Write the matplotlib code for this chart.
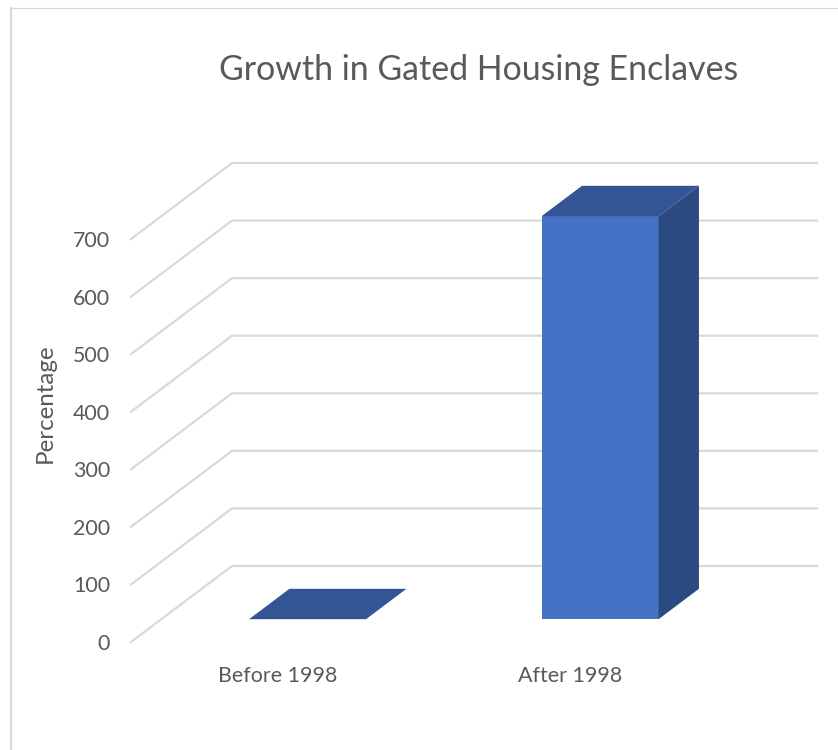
import matplotlib
matplotlib.use('Agg')
import matplotlib.pyplot as plt
from matplotlib.lines import Line2D
from matplotlib.patches import Polygon

categories = ['Before 1998', 'After 1998']
values = [0, 700]
y_ticks = [0, 100, 200, 300, 400, 500, 600, 700]

plt.rcParams['font.family'] = ['Lato', 'DejaVu Sans']

W, H = 838, 750
fig = plt.figure(figsize=(W / 100, H / 100), dpi=100)

# plot box in pixels: floor front edge to top of the back wall
left, right, bottom, top = 131, 817, 642, 163
ax = fig.add_axes([left / W, 1 - bottom / H, (right - left) / W, (bottom - top) / H])

# one category is 292.5 px wide, 100 units are 57.57 px tall
depth_x = 101 / 292.5
depth_y = 76 / 57.57 * 100
ax.set_xlim(-0.5, 1.5 + depth_x)
ax.set_ylim(0, (bottom - top) / 57.57 * 100)


def shift(x, y, d):
    # move a point on the front plane back by depth d (0..1)
    return (x + d * depth_x, y + d * depth_y)


grid_col = '#d9d9d9'
for v in y_ticks:
    x0, y0 = shift(-0.5, v, 0)
    x1, y1 = shift(-0.5, v, 1)
    x2, y2 = shift(1.5, v, 1)
    ax.plot([x0, x1, x2], [y0, y1, y2], color=grid_col, lw=1.6, zorder=1,
            clip_on=False, solid_joinstyle='miter')

bar_w = 0.4
d0, d1 = 0.3, 0.7
for i, v in enumerate(values):
    xl, xr = i - bar_w / 2, i + bar_w / 2
    if v > 0:
        front = [shift(xl, 0, d0), shift(xr, 0, d0), shift(xr, v, d0), shift(xl, v, d0)]
        side = [shift(xr, 0, d0), shift(xr, 0, d1), shift(xr, v, d1), shift(xr, v, d0)]
        ax.add_patch(Polygon(front, fc='#4472c4', ec='none', zorder=3))
        ax.add_patch(Polygon(side, fc='#2b4a80', ec='none', zorder=3))
    lid = [shift(xl, v, d0), shift(xr, v, d0), shift(xr, v, d1), shift(xl, v, d1)]
    ax.add_patch(Polygon(lid, fc='#335593', ec='none', zorder=3))

for s in ax.spines.values():
    s.set_visible(False)
ax.patch.set_visible(False)

text_col = '#595959'
ax.set_yticks(y_ticks)
ax.set_xticks(range(len(categories)))
ax.set_xticklabels(categories)
ax.tick_params(axis='both', length=0, labelsize=15.4, labelcolor=text_col)
ax.tick_params(axis='x', pad=17)
ax.tick_params(axis='y', pad=15)

fig.text(45 / W, 1 - 403 / H, 'Percentage', rotation=90, ha='center', va='center',
         fontsize=17.4, color=text_col)
fig.text(479 / W, 1 - 70 / H, 'Growth in Gated Housing Enclaves', ha='center', va='center',
         fontsize=24.4, color=text_col)

# chart frame, only the top and left edges show
fig.add_artist(Line2D([11 / W, 11 / W], [0, 1 - 7.5 / H], color=grid_col, lw=1.5))
fig.add_artist(Line2D([10 / W, 1], [1 - 7.5 / H, 1 - 7.5 / H], color=grid_col, lw=0.8))

fig.savefig('out.png', dpi=100)
